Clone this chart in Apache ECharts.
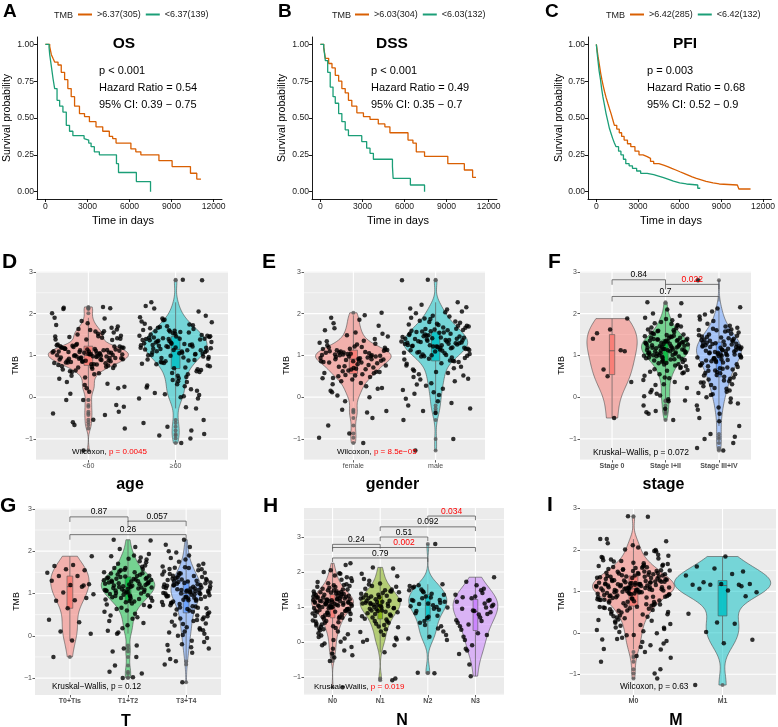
<!DOCTYPE html>
<html>
<head>
<meta charset="utf-8">
<script src="https://cdn.jsdelivr.net/npm/echarts@6/dist/echarts.min.js"></script>
<style>
  html, body { margin: 0; padding: 0; background: #fff; }
  #chart { width: 778px; height: 727px; }
</style>
</head>
<body>
<div id="chart"></div>
<script>
// ---------- Kaplan-Meier curves: [days, survival] at each step ----------
const osHigh = [[0,1],[307,0.984],[425,0.93],[540,0.905],[660,0.88],[900,0.86],[1130,0.81],[1370,0.76],[1600,0.70],[1840,0.645],[2080,0.58],[2430,0.53],[2790,0.51],[3140,0.475],[3610,0.44],[4090,0.41],[4560,0.375],[4800,0.36],[5040,0.33],[6100,0.29],[6450,0.27],[6810,0.25],[8100,0.21],[9040,0.17],[10350,0.125],[10800,0.085],[11100,0.085]];
const osLow = [[0,1],[260,0.98],[307,0.93],[425,0.85],[540,0.77],[660,0.70],[830,0.62],[1015,0.58],[1250,0.54],[1490,0.45],[1720,0.41],[1960,0.38],[2760,0.36],[2860,0.35],[3090,0.33],[3260,0.305],[3490,0.27],[3850,0.25],[5070,0.19],[5215,0.13],[6490,0.068],[7500,0.0]];
const dssHigh = [[0,1],[236,0.98],[354,0.905],[590,0.87],[826,0.84],[1060,0.79],[1300,0.75],[1530,0.70],[1770,0.67],[2000,0.62],[2240,0.58],[2600,0.535],[3070,0.51],[3540,0.49],[4130,0.46],[4600,0.44],[4960,0.40],[6250,0.35],[6600,0.33],[6840,0.27],[7430,0.24],[9090,0.19],[10270,0.147],[10860,0.097],[11100,0.097]];
const dssLow = [[0,1],[236,0.98],[354,0.89],[520,0.81],[700,0.71],[900,0.645],[1060,0.60],[1300,0.53],[1530,0.475],[1770,0.42],[2000,0.38],[2950,0.34],[3300,0.295],[3540,0.26],[3780,0.22],[5140,0.17],[5190,0.09],[6420,0.045],[7430,0.0]];
const pfiHigh = [[0,1],[60,0.96],[118,0.92],[180,0.885],[236,0.85],[320,0.80],[400,0.76],[490,0.72],[590,0.68],[700,0.64],[826,0.60],[940,0.565],[1060,0.53],[1180,0.49],[1300,0.45],[1470,0.425],[1650,0.40],[1820,0.375],[2000,0.35],[2240,0.325],[2480,0.305],[2780,0.275],[3070,0.25],[3360,0.238],[3660,0.226],[3900,0.205],[4130,0.19],[4500,0.18],[4840,0.17],[5130,0.158],[5430,0.147],[5720,0.135],[6020,0.124],[6300,0.112],[6600,0.10],[6900,0.09],[7200,0.08],[7550,0.07],[7900,0.06],[8400,0.052],[8850,0.045],[10150,0.038],[10260,0.018],[11100,0.018]];
const pfiLow = [[0,1],[60,0.94],[118,0.89],[200,0.82],[300,0.76],[380,0.70],[470,0.645],[580,0.59],[700,0.53],[820,0.48],[940,0.43],[1060,0.395],[1180,0.36],[1300,0.33],[1420,0.305],[1600,0.275],[1770,0.25],[1950,0.22],[2120,0.19],[2360,0.175],[2600,0.158],[2900,0.14],[3190,0.124],[3660,0.115],[4130,0.106],[4480,0.095],[4840,0.084],[5200,0.072],[5550,0.06],[6000,0.052],[6490,0.045],[7300,0.023],[7480,0.023]];

const kmTitles = ['OS', 'DSS', 'PFI'];
const kmHighNames = ['>6.37(305)', '>6.03(304)', '>6.42(285)'];
const kmLowNames = ['<6.37(139)', '<6.03(132)', '<6.42(132)'];
const kmPText = ['p < 0.001', 'p < 0.001', 'p = 0.003'];
const kmHR = ['Hazard Ratio = 0.54', 'Hazard Ratio = 0.49', 'Hazard Ratio = 0.68'];
const kmCI = ['95% CI: 0.39 \u2212 0.75', '95% CI: 0.35 \u2212 0.7', '95% CI: 0.52 \u2212 0.9'];
const kmXTicks = [0, 3000, 6000, 9000, 12000];
const kmYTicks = [0, 0.25, 0.5, 0.75, 1];

// ---------- TMB values per group ----------
const ageLt60 = [1.05,0.92,1.21,1.38,0.77,1.12,0.64,1.47,0.98,1.16,2.13,0.85,0.82,1.03,0.51,1.62,1.09,0.95,0.73,0.71,1.18,1.57,0.88,1.01,0.29,1.24,1.42,0.99,1.11,0.79,2.11,0.88,0.93,1.07,1.52,0.62,0.94,1.14,0.44,1.88,0.97,1.19,0.79,0.83,1.06,-0.07,1.45,0.9,1.23,1.69,1.02,0.74,1.13,0.92,0.25,0.96,1.08,1.55,0.87,1.26,2.16,1.0,1.4,0.68,1.17,0.94,1.82,1.1,0.57,0.84,-0.19,1.04,1.22,0.81,1.5,0.91,1.15,0.36,1.37,1.06,1.73,0.89,1.2,-0.35,1.03,0.66,0.76,1.12,2.01,0.98,1.44,0.76,0.21,1.09,1.58,1.25,0.93,-0.54,1.16,0.86,0.86,1.9,1.05,0.6,1.41,0.13,1.19,0.97,1.63,-0.23,1.11,0.83,0.7,0.47,1.0,1.53,-0.67,1.21,0.72,2.14,1.07,0.95,-0.39,1.46,0.08,1.14,1.77,0.9,-0.43,1.27,1.02,0.55,-0.07,1.66,-1.28,1.38,0.99,-0.6,0.21,1.61,1.18,0.32,1.08,-0.75,0.78];
const ageGe60 = [1.32,0.95,1.58,1.12,0.41,1.76,1.25,0.83,1.47,1.05,2.27,0.62,1.39,1.18,-0.24,1.66,0.97,1.52,0.28,1.21,1.85,0.74,1.09,1.43,0.05,1.3,1.61,0.88,1.15,1.95,0.51,1.36,1.02,1.7,-0.03,1.27,0.79,1.49,1.13,2.18,0.19,1.41,0.92,1.56,1.07,0.67,1.34,1.81,0.36,1.23,-0.88,1.45,1.0,1.63,0.86,1.17,2.81,0.1,1.38,0.58,1.29,1.74,0.94,1.11,0.45,1.5,-0.27,1.2,1.91,0.71,1.33,1.04,1.59,0.23,1.26,0.82,1.44,-1.1,1.16,2.05,0.99,1.37,0.55,1.68,1.08,0.31,1.42,0.89,1.22,1.79,0.02,1.31,0.65,1.53,1.14,-0.99,1.88,0.76,1.4,1.01,0.15,1.6,1.24,0.48,1.35,-0.55,1.19,0.9,1.72,0.07,1.46,1.06,2.12,0.6,1.28,-0.62,1.55,0.84,1.18,0.38,1.65,1.03,-0.71,1.47,0.26,1.1,2.8,0.69,1.39,-0.8,1.84,0.96,0.0,1.25,-0.03,1.57,0.8,1.12,-0.92,1.4];
const female = [1.05,0.62,1.14,0.88,0.31,1.28,0.97,0.45,1.08,0.73,2.02,0.52,1.19,0.91,-0.1,1.45,0.83,1.02,0.2,0.66,1.6,0.95,0.38,1.11,0.79,1.9,0.57,1.03,0.86,1.35,0.04,0.99,0.7,1.24,0.48,1.07,-0.33,0.93,1.77,0.61,1.16,0.84,0.26,1.0,1.52,0.68,1.1,-0.5,0.89,1.3,0.55,0.96,1.71,0.42,1.06,0.77,-0.3,1.18,0.92,0.12,1.39,0.64,1.01,1.96,0.5,0.87,1.21,-0.68,0.98,0.74,1.13,0.34,1.65,0.81,1.04,0.58,-0.37,1.09,0.9,1.26,0.15,0.71,1.48,0.94,-1.1,1.12,0.6,0.86,1.34,0.0,1.02,0.76,1.85,0.46,0.97,-0.87,1.15,0.67,1.07,0.22,1.55,0.83,1.0,0.53,-0.97,1.2,0.91];
const male = [1.25,1.52,0.98,1.71,1.18,0.63,1.4,1.87,1.06,1.33,0.42,1.61,1.21,2.12,0.87,1.47,1.13,0.2,1.56,1.29,1.95,0.76,1.37,1.02,1.66,0.05,1.23,1.81,0.92,1.44,2.03,0.55,1.31,1.09,1.74,-0.14,1.5,1.16,0.81,1.39,2.27,0.33,1.27,1.6,0.97,1.42,1.2,1.9,0.69,1.35,-0.27,1.55,1.07,1.78,0.12,1.3,0.88,1.46,2.15,1.14,0.48,1.64,1.24,-0.55,1.01,1.83,1.36,0.6,1.52,1.19,0.27,1.69,1.11,2.01,0.84,1.41,-0.04,1.28,1.57,0.94,1.73,1.22,0.38,1.48,2.8,1.05,1.34,0.73,1.62,-0.2,1.17,1.88,0.99,1.43,0.08,1.26,1.58,0.9,2.1,1.32,0.52,1.76,1.12,-1.0,1.38,1.03,1.67,0.3,1.45,1.21,0.8,1.93,-0.33,1.15,1.54,0.66,1.29,1.8,0.17,1.37,1.08,2.05,-0.38,1.49,0.95,1.63,0.44,1.24,-1.28,1.71,1.0,1.4,0.58,2.21,1.18,-0.1,1.59,0.86,2.81,1.33];
const stage0 = [1.88,1.62,1.4,1.12,0.66,0.36,-0.5,1.53,1.1,0.5];
const stage12 = [1.18,1.42,0.87,1.29,1.6,0.98,1.12,0.63,1.35,1.73,1.05,0.41,1.22,1.51,0.92,1.15,2.27,0.76,1.38,1.08,-0.1,1.67,1.25,0.85,1.46,1.01,0.29,1.32,1.87,0.95,1.19,0.55,1.4,1.1,2.0,0.72,1.27,-0.36,1.56,1.04,0.89,1.33,0.12,1.21,1.8,0.99,1.44,0.67,1.14,-0.28,1.62,1.07,0.81,1.36,0.45,1.24,1.95,0.94,1.3,-0.55,1.17,0.59,1.49,1.02,1.71,0.04,1.26,0.9,1.39,2.25,0.78,1.13,0.36,1.58,1.06,-0.05,1.43,0.97,1.2,0.51,1.84,1.09,0.84,1.34,-0.4,1.65,1.0,0.22,1.28,1.53,0.7,1.16,0.93,1.47,0.08,1.23,2.1,0.61,1.37,1.11,-0.2,1.75,0.88,1.31,0.47,1.19,1.04,1.59,0.74,1.41,0.17,1.27,0.96,1.9,1.14,-0.33,1.5,0.82,1.07,1.35,1.22,0.65,1.45,1.0,1.69,0.31,1.26,0.91,1.38,-0.08,1.12,1.55,0.79,1.3,0.02,1.18,1.77,0.57,1.33,1.05];
const stage34 = [1.12,0.58,1.34,0.87,1.61,0.2,1.05,1.47,0.69,1.23,-0.12,1.82,0.95,0.4,1.3,1.02,2.12,0.77,1.16,0.05,1.55,0.9,1.38,0.31,1.08,-0.3,1.69,0.63,1.2,0.98,1.45,0.16,1.27,2.15,0.83,1.11,0.47,1.6,-0.5,1.0,1.35,0.72,1.18,0.26,1.52,0.93,-0.2,1.25,1.76,0.55,1.06,0.35,1.41,0.86,-0.69,1.14,1.98,0.66,1.29,0.1,1.03,1.5,0.79,-0.4,1.21,0.44,1.64,0.97,1.33,0.0,1.09,0.6,1.86,0.89,-0.88,1.17,1.43,0.52,1.26,0.22,0.95,1.57,0.74,1.12,-0.25,1.37,0.38,2.05,1.01,0.68,1.24,-1.1,0.84,1.48,0.13,1.07,1.66,0.57,1.31,-0.03,0.92,1.19,0.49,1.44,-0.95,1.04,0.76,1.59,0.29,1.22,0.99,-1.0,1.36,0.64,2.8,1.1,0.42,1.28,-0.58,0.81,1.71,0.07,1.15,-1.28,0.88,1.4,0.53,1.93,0.71,1.2,-0.15,1.02,0.35,1.62,0.93,-1.22];
const t0tis = [1.88,1.67,1.65,1.55,1.57,1.49,1.41,1.41,1.22,1.2,1.3,1.16,1.02,0.98,0.84,0.83,0.89,0.65,0.38,0.32,0.1,0.05,-0.11,-0.5,1.19];
const t1t2 = [1.15,1.42,0.88,1.27,1.63,0.97,1.08,0.52,1.35,1.8,1.03,0.35,1.22,1.55,0.9,1.18,2.27,0.73,1.4,1.06,-0.23,1.7,1.25,0.82,1.47,1.0,0.18,1.31,1.9,0.94,1.2,0.6,1.38,1.12,2.05,0.7,1.28,-0.37,1.58,1.05,0.86,1.33,0.05,1.23,1.82,0.99,1.44,0.66,1.14,-0.98,1.6,1.09,0.79,1.36,0.44,1.24,1.93,0.93,1.3,-0.89,1.17,0.57,1.5,1.01,1.74,0.25,1.26,0.87,1.39,2.25,0.76,1.13,0.3,1.56,1.07,-0.5,1.45,0.96,1.21,0.48,1.85,1.1,0.83,1.34,-0.7,1.66,1.02,0.12,1.29,1.52,0.69,1.16,0.91,1.48,-0.3,1.23,2.1,0.63,1.37,1.11,-0.85,1.76,0.89,1.32,0.4,1.19,1.04,1.6,0.74,1.41,0.08,1.27,0.95,1.88,1.14,-1.0,1.5,0.81,1.07,1.35];
const t3t4 = [1.05,0.62,1.31,0.88,1.58,0.18,1.0,1.45,0.7,1.2,-0.15,1.8,0.93,0.37,1.27,1.02,2.1,0.78,1.14,0.02,1.52,0.9,1.36,0.29,1.07,-0.35,1.66,0.67,1.17,0.97,1.42,0.13,1.25,2.15,0.83,1.1,0.46,1.6,-0.55,0.99,1.33,0.73,1.16,0.24,1.49,0.92,-0.22,1.22,1.75,0.55,1.04,0.33,1.39,0.85,-0.68,1.12,1.97,0.65,1.28,0.08,1.01,1.47,0.8,-0.4,1.19,0.43,1.62,0.95,1.3,0.0,1.06,0.6,1.84,0.87,-1.1,1.15,1.41,0.5,1.24,0.2,0.94,1.55,0.75,1.11,-0.27,1.35,0.39,2.27,1.0,0.69,1.23,-0.05,0.84,1.46,0.15,1.08,1.64,0.57,1.29,0.05,0.91,1.18,0.48,1.43,-0.3,1.03,0.77,1.57,0.28,1.21,0.98,-0.6,1.34,0.63,2.0,1.09,0.41,1.26,-0.12,0.81,1.7,0.1,1.13,0.86,1.38,0.52,1.9,0.72,1.2,-0.2,1.01,0.35,1.61,0.92,1.05,1.32,0.66,1.48,0.96,1.12];
const n0 = [1.12,0.72,1.35,0.95,1.62,0.25,1.06,1.48,0.81,1.23,-0.1,1.85,1.0,0.47,1.3,1.09,2.25,0.86,1.18,0.1,1.55,0.97,1.4,0.36,1.14,-0.2,1.71,0.69,1.21,1.03,1.45,0.18,1.29,2.05,0.89,1.16,0.55,1.6,-0.45,1.02,1.37,0.77,1.2,0.3,1.52,0.94,-0.33,1.26,1.78,0.6,1.08,0.4,1.42,0.88,-0.55,1.15,1.96,0.66,1.32,0.05,1.04,1.5,0.83,-0.38,1.22,0.5,1.65,0.98,1.34,0.0,1.1,0.63,1.9,0.91,-0.25,1.17,1.44,0.56,1.27,0.22,0.99,1.58,0.79,1.13,-0.15,1.39,0.43,2.2,1.05,0.74,1.25,-0.05,0.87,1.47,0.14,1.11,1.68,0.61,1.33,1.0,0.93,1.19,0.52,1.43,1.07,0.8,1.57,0.33,1.24,1.01,1.38,0.68,2.0,1.12,0.45,1.28,-1.3,0.84,1.74,1.06,1.16,0.9,1.41,0.58,1.95,0.76,1.22,1.09,0.38,1.63,0.96,1.3,1.04,0.71,1.5,1.14,0.85,1.36,1.2,1.82];
const n1 = [1.05,0.73,1.32,0.9,1.58,0.3,1.12,1.45,0.8,1.2,-0.3,1.75,0.97,0.44,1.27,1.02,2.13,0.85,1.15,0.05,1.5,0.93,1.38,0.36,1.08,-1.05,1.67,0.66,1.18,1.0,1.42,0.2,1.25,2.1,0.88,1.1,0.58,1.6,0.07,0.98,1.34,0.75,1.22,0.28,1.48,0.95,-0.1,1.28,1.8,0.55,1.06,0.42,1.4,0.82,-1.1,1.14,1.95,0.64,1.3,0.12,1.03,1.52,0.78,0.6,1.2,0.48,1.64,0.96,1.35,0.0,1.09,0.7,1.88,0.9,1.17,1.44,0.52,1.24,0.86,1.11];
const n2 = [1.2,0.6,1.48,0.95,1.62,0.3,1.1,1.55,0.75,1.25,0.05,1.38,0.88,0.45,1.3,1.02,2.8,0.55,1.15,0.15,1.58,0.92,1.42,0.1,1.05,-0.88,1.65,0.68,1.2,1.0,1.5,0.2,1.27,0.82,1.12,0.48,1.6,-0.9,1.08,1.35,0.72,1.18,0.38,1.45,0.98];
const n3 = [0.95,0.2,1.25,0.62,1.48,-0.2,0.85,1.3,0.45,1.1,-0.65,1.85,0.78,0.15,1.18,0.9,0.55,1.4,-0.25,1.02,1.62,0.35,0.98,-0.98,1.35,0.7,0.05,1.2,0.88,-0.35,1.52,0.5,1.06,0.25,1.28,0.8,-0.1,1.15,0.6,1.72];
const m0 = [1.1,0.7,1.36,0.94,1.63,0.24,1.05,1.49,0.8,1.22,-0.12,1.86,0.99,0.46,1.31,1.08,2.26,0.85,1.17,0.09,1.56,0.96,1.41,0.35,1.13,-0.22,1.72,0.68,1.2,1.02,1.46,0.17,1.28,2.06,0.88,1.15,0.54,1.61,-0.46,1.01,1.38,0.76,1.19,0.29,1.53,0.93,-0.34,1.25,1.79,0.59,1.07,0.39,1.43,0.87,-0.56,1.14,1.97,0.65,1.33,0.04,1.03,1.51,0.82,-0.39,1.21,0.49,1.66,0.97,1.35,-0.01,1.09,0.62,1.91,0.9,-0.26,1.16,1.45,0.55,1.26,0.21,0.98,1.59,0.78,1.12,-0.16,1.4,0.42,2.21,1.04,0.73,1.24,-0.06,0.86,1.48,0.13,1.1,1.69,0.6,1.32,0.99,0.92,1.18,0.51,1.44,1.06,0.79,1.58,0.32,1.23,1.0,1.37,0.67,2.01,1.11,0.44,1.27,-0.88,0.83,1.75,1.05,1.15,0.89,1.42,0.57,1.96,0.75,1.21,1.08,0.37,1.64,0.95,1.3,1.03,0.71,1.5,1.13,0.84,1.36,1.19,1.83,2.8,0.02,1.29,0.63,1.54,-0.98,1.07,0.81,1.68,0.27,1.23,2.11,0.91,-0.3,1.39,0.5,1.16,1.77,-1.1,0.97,1.34,0.69,1.47,0.12,1.2,2.26,0.87,1.06,-0.6,1.57,0.4,1.26,0.93,1.81,0.58,1.12,-0.2,1.44,0.77,2.0,1.01,0.31,1.35,0.86,1.62,-0.05,1.17,0.65,1.52,1.09,0.19,1.28,1.88,0.94,-0.7,1.14,0.53,1.41,1.04,2.16,0.74,1.22,0.07,1.6,0.98,-0.4,1.32,0.61,1.1,1.73,0.45,1.18,0.9,1.49,2.81,0.8,1.25,-0.15,1.02,1.38];
const m1 = [1.84,1.6,1.48,1.55,1.38,1.42,1.22,1.18,1.18,1.16,1.16,1.16,0.98,1.02,1.06,0.88,0.25,0.46,0.22,0.02,-0.17,-0.25,-1.26,1.12];

// ---------- pairwise comparisons: [group a, group b, bracket height] ----------
const stageBrackets = [[1, 2, 2.81], [2, 3, 2.70], [1, 3, 2.41]];
const stageBracketP = ['0.84', '0.022', '0.7'];
const tBrackets = [[1, 2, 2.81], [2, 3, 2.71], [1, 3, 2.39]];
const tBracketP = ['0.87', '0.057', '0.26'];
const nBrackets = [[1, 3, 2.40], [1, 4, 2.70], [1, 2, 2.79], [2, 3, 3.0], [2, 4, 3.29], [3, 4, 3.6]];
const nBracketP = ['0.79', '0.002', '0.24', '0.51', '0.092', '0.034'];

const FONT = '"Liberation Sans", Arial, Helvetica, sans-serif';
const RED = '#FF0000';
const hue2 = ['#F8766D', '#00BFC4'];
const hue3 = ['#F8766D', '#00BA38', '#619CFF'];
const hue4 = ['#F8766D', '#7CAE00', '#00BFC4', '#C77CFF'];
const kmColors = ['#D95F02', '#1B9E77'];

const violinPanels = [
  { cats: ['<60', '\u226560'], groups: [ageLt60, ageGe60], colors: hue2, widths: [0.46, 0.36],
    grid: { left: 36, top: 271, width: 192, height: 189 }, ymin: -1.505, ymax: 3.02, bold: false,
    title: 'age', letter: 'D', test: ['Wilcoxon, ', 'p = 0.0045'], testRed: true, testPos: [72, 452], testSize: 8,
    nameX: 16, titleY: 484.5 },
  { cats: ['female', 'male'], groups: [female, male], colors: hue2, widths: [0.46, 0.39],
    grid: { left: 304, top: 271, width: 181, height: 189 }, ymin: -1.505, ymax: 3.02, bold: false,
    title: 'gender', letter: 'E', test: ['Wilcoxon, ', 'p = 8.5e\u221205'], testRed: true, testPos: [337, 452], testSize: 8,
    nameX: 287, titleY: 484.5 },
  { cats: ['Stage 0', 'Stage I+II', 'Stage III+IV'], groups: [stage0, stage12, stage34], colors: hue3, widths: [0.47, 0.45, 0.42],
    grid: { left: 580, top: 271, width: 171, height: 189 }, ymin: -1.505, ymax: 3.02, bold: true,
    brackets: stageBrackets, bracketP: stageBracketP,
    title: 'stage', letter: 'F', test: ['Kruskal\u2212Wallis, p = 0.072', ''], testRed: false, testPos: [593, 453], testSize: 8.5,
    nameX: 562, titleY: 484.5 },
  { cats: ['T0+Tis', 'T1+T2', 'T3+T4'], groups: [t0tis, t1t2, t3t4], colors: hue3, widths: [0.33, 0.46, 0.26],
    grid: { left: 35, top: 508, width: 186, height: 187 }, ymin: -1.4, ymax: 3.02, bold: true,
    brackets: tBrackets, bracketP: tBracketP,
    title: 'T', letter: 'G', test: ['Kruskal\u2212Wallis, p = 0.12', ''], testRed: false, testPos: [52, 687], testSize: 8.3,
    nameX: 17, titleY: 722 },
  { cats: ['N0', 'N1', 'N2', 'N3'], groups: [n0, n1, n2, n3], colors: hue4, widths: [0.44, 0.42, 0.40, 0.47],
    grid: { left: 304, top: 508, width: 200, height: 187 }, ymin: -1.52, ymax: 3.83, bold: true,
    brackets: nBrackets, bracketP: nBracketP,
    title: 'N', letter: 'H', test: ['Kruskal\u2212Wallis, ', 'p = 0.019'], testRed: true, testPos: [314, 687], testSize: 8,
    nameX: 286, titleY: 721 },
  { cats: ['M0', 'M1'], groups: [m0, m1], colors: hue2, widths: [0.46, 0.54],
    grid: { left: 580, top: 508, width: 196, height: 187 }, ymin: -1.5, ymax: 3.01, bold: true,
    title: 'M', letter: 'I', test: ['Wilcoxon, p = 0.63', ''], testRed: false, testPos: [620, 687], testSize: 8.3,
    nameX: 562, titleY: 721 }
];

const kmGrids = [
  { left: 37, top: 37, width: 185, height: 162 },
  { left: 312, top: 37, width: 185, height: 162 },
  { left: 588, top: 37, width: 185, height: 162 }
];

function alpha(hex, a) {
  const n = parseInt(hex.slice(1), 16);
  return 'rgba(' + (n >> 16) + ',' + ((n >> 8) & 255) + ',' + (n & 255) + ',' + a + ')';
}

function quantile(s, p) {
  const h = (s.length - 1) * p, lo = Math.floor(h);
  const hi = Math.min(lo + 1, s.length - 1);
  return s[lo] + (h - lo) * (s[hi] - s[lo]);
}

// box stats + trimmed gaussian density (bw.nrd0), like geom_violin
function groupStats(vals) {
  const s = vals.slice().sort((a, b) => a - b);
  const n = s.length;
  const q1 = quantile(s, 0.25), med = quantile(s, 0.5), q3 = quantile(s, 0.75);
  const iqr = q3 - q1;
  const lo = s.find(v => v >= q1 - 1.5 * iqr);
  const hi = s.slice().reverse().find(v => v <= q3 + 1.5 * iqr);
  const out = s.filter(v => v < lo || v > hi);
  const mean = s.reduce((a, b) => a + b, 0) / n;
  const sd = Math.sqrt(s.reduce((a, b) => a + (b - mean) * (b - mean), 0) / (n - 1));
  const bw = 0.9 * Math.min(sd, iqr / 1.34) * Math.pow(n, -0.2);
  const steps = 90, prof = [];
  for (let k = 0; k <= steps; k++) {
    const y = s[0] + (s[n - 1] - s[0]) * k / steps;
    let d = 0;
    for (const v of s) { const z = (y - v) / bw; d += Math.exp(-0.5 * z * z); }
    prof.push([y, d]);
  }
  const maxD = Math.max(...prof.map(p => p[1]));
  prof.forEach(p => { p[1] /= maxD; });
  return { q1, med, q3, lo, hi, out, prof };
}

const measure = document.createElement('canvas').getContext('2d');
function textWidth(t, size, bold) {
  measure.font = (bold ? 'bold ' : '') + size + 'px ' + FONT;
  return measure.measureText(t).width;
}

function txt(x, y, text, size, o) {
  o = o || {};
  return {
    type: 'text', x: x, y: y, rotation: o.rot || 0, silent: true, z: 100,
    style: {
      text: text, fill: o.color || '#000', fontSize: size, fontFamily: FONT,
      fontWeight: o.bold ? 'bold' : 'normal', align: o.align || 'left', verticalAlign: 'middle'
    }
  };
}

const grids = [], xAxes = [], yAxes = [], series = [], legends = [], graphics = [];

// ---------- survival panels ----------
const kmData = [[osHigh, osLow], [dssHigh, dssLow], [pfiHigh, pfiLow]];
const kmLetters = [['A', 3], ['B', 278], ['C', 545]];
const kmTitleX = [124, 392, 685];
const kmTextX = [99, 371, 647];
const kmLegendX = [[54, 78], [332, 355], [606, 630]];
const kmYName = [7.5, 282, 559];
const kmXName = [123, 398, 671];

kmGrids.forEach((g, k) => {
  grids.push(Object.assign({ containLabel: false }, g));
  xAxes.push({
    type: 'value', gridIndex: k, min: -600, max: 12600,
    axisLine: { show: true, onZero: false, lineStyle: { color: '#000', width: 0.9 } },
    axisTick: { show: true, customValues: kmXTicks, length: 3, lineStyle: { color: '#000', width: 0.9 } },
    axisLabel: { customValues: kmXTicks, formatter: v => String(v), fontSize: 8.6, color: '#1a1a1a', margin: 3, fontFamily: FONT },
    splitLine: { show: false }
  });
  yAxes.push({
    type: 'value', gridIndex: k, min: -0.05, max: 1.05,
    axisLine: { show: true, onZero: false, lineStyle: { color: '#000', width: 0.9 } },
    axisTick: { show: true, customValues: kmYTicks, length: 3, lineStyle: { color: '#000', width: 0.9 } },
    axisLabel: { customValues: kmYTicks, formatter: v => v.toFixed(2), fontSize: 8.6, color: '#1a1a1a', margin: 3, fontFamily: FONT },
    splitLine: { show: false }
  });
  [kmHighNames[k], kmLowNames[k]].forEach((name, j) => {
    series.push({
      type: 'line', name: name, xAxisIndex: k, yAxisIndex: k, data: kmData[k][j],
      step: 'end', showSymbol: false, silent: true, color: kmColors[j],
      lineStyle: { color: kmColors[j], width: 1.3 }, z: 3
    });
  });
  legends.push({
    data: [kmHighNames[k], kmLowNames[k]], left: kmLegendX[k][1], top: 10, padding: 0,
    icon: 'rect', itemWidth: 14, itemHeight: 2, itemGap: 5, selectedMode: false,
    textStyle: { fontSize: 9, color: '#1a1a1a', fontFamily: FONT }
  });
  graphics.push(txt(kmLegendX[k][0], 15.7, 'TMB', 9, { color: '#1a1a1a' }));
  graphics.push(txt(kmLetters[k][1], 11.5, kmLetters[k][0], 19, { bold: true }));
  graphics.push(txt(kmTitleX[k], 44, kmTitles[k], 15.5, { bold: true, align: 'center' }));
  graphics.push(txt(kmTextX[k], 71, kmPText[k], 11));
  graphics.push(txt(kmTextX[k], 88, kmHR[k], 11));
  graphics.push(txt(kmTextX[k], 104.5, kmCI[k], 11));
  graphics.push(txt(kmYName[k], 118, 'Survival probability', 10.5, { rot: Math.PI / 2, align: 'center' }));
  graphics.push(txt(kmXName[k], 221, 'Time in days', 11, { align: 'center' }));
});

// ---------- violin panels ----------
const letterPos = { D: [2, 262.5, 21], E: [262, 262.5, 21], F: [548, 262.5, 21], G: [0, 506.5, 21], H: [263, 506.5, 21], I: [547, 505, 21] };

violinPanels.forEach((P, pi) => {
  const gi = grids.length;
  const nCat = P.cats.length;
  const catVals = P.cats.map((c, i) => i + 1);
  const yTicks = [-1, 0, 1, 2, 3];
  P.stats = P.groups.map(groupStats);
  grids.push(Object.assign({ show: true, backgroundColor: '#EBEBEB', borderWidth: 0 }, P.grid));
  xAxes.push({
    type: 'value', gridIndex: gi, min: 0.4, max: nCat + 0.6,
    axisLine: { show: false, onZero: false },
    axisTick: { show: true, customValues: catVals, length: 2.5, lineStyle: { color: '#333', width: 0.8 } },
    axisLabel: { customValues: catVals, formatter: v => P.cats[Math.round(v) - 1], fontSize: 7, color: '#4D4D4D',
      fontWeight: P.bold ? 'bold' : 'normal', margin: 3, fontFamily: FONT },
    splitLine: { show: false }
  });
  yAxes.push({
    type: 'value', gridIndex: gi, min: P.ymin, max: P.ymax,
    axisLine: { show: false, onZero: false },
    axisTick: { show: true, customValues: yTicks, length: 2.5, lineStyle: { color: '#333', width: 0.8 } },
    axisLabel: { customValues: yTicks, formatter: v => String(v).replace('-', '\u2212'), fontSize: 7, color: '#4D4D4D', margin: 3, fontFamily: FONT },
    splitLine: { show: false }
  });

  // panel grid lines
  series.push({
    type: 'custom', xAxisIndex: gi, yAxisIndex: gi, silent: true, z: 1, data: [[1, 0]],
    renderItem: (params, api) => {
      const cs = params.coordSys, kids = [];
      const k0 = Math.ceil(P.ymin * 2), k1 = Math.floor(P.ymax * 2);
      for (let k = k0; k <= k1; k++) {
        const y = api.coord([1, k / 2])[1];
        kids.push({ type: 'line', shape: { x1: cs.x, y1: y, x2: cs.x + cs.width, y2: y },
          style: { stroke: '#FFFFFF', lineWidth: k % 2 === 0 ? 1.1 : 0.55 } });
      }
      catVals.forEach(c => {
        const x = api.coord([c, 0])[0];
        kids.push({ type: 'line', shape: { x1: x, y1: cs.y, x2: x, y2: cs.y + cs.height },
          style: { stroke: '#FFFFFF', lineWidth: 1.1 } });
      });
      return { type: 'group', children: kids };
    }
  });

  // violins + boxplots
  series.push({
    type: 'custom', xAxisIndex: gi, yAxisIndex: gi, silent: true, z: 2,
    data: P.stats.map((s, i) => [i + 1, s.med]),
    renderItem: (params, api) => {
      const i = params.dataIndex, st = P.stats[i], cx = i + 1, hw = P.widths[i], col = P.colors[i];
      const right = st.prof.map(p => api.coord([cx + p[1] * hw, p[0]]));
      const left = st.prof.slice().reverse().map(p => api.coord([cx - p[1] * hw, p[0]]));
      const bw = 0.05;
      const a = api.coord([cx - bw, st.q3]), b = api.coord([cx + bw, st.q1]);
      const top = api.coord([cx, st.hi]), bot = api.coord([cx, st.lo]);
      const m1 = api.coord([cx - bw, st.med]), m2 = api.coord([cx + bw, st.med]);
      return { type: 'group', children: [
        { type: 'polygon', shape: { points: right.concat(left) }, style: { fill: alpha(col, 0.5), stroke: '#4D4D4D', lineWidth: 0.6 } },
        { type: 'line', shape: { x1: top[0], y1: top[1], x2: top[0], y2: a[1] }, style: { stroke: '#555', lineWidth: 0.7 } },
        { type: 'line', shape: { x1: bot[0], y1: b[1], x2: bot[0], y2: bot[1] }, style: { stroke: '#555', lineWidth: 0.7 } },
        { type: 'rect', shape: { x: a[0], y: a[1], width: b[0] - a[0], height: b[1] - a[1] }, style: { fill: alpha(col, 0.85), stroke: '#555', lineWidth: 0.6 } },
        { type: 'line', shape: { x1: m1[0], y1: m1[1], x2: m2[0], y2: m2[1] }, style: { stroke: '#555', lineWidth: 0.8 } }
      ] };
    }
  });

  // box outliers
  const outData = [];
  P.stats.forEach((s, i) => s.out.forEach(v => outData.push([i + 1, v])));
  series.push({
    type: 'scatter', xAxisIndex: gi, yAxisIndex: gi, silent: true, z: 3, data: outData,
    symbolSize: 4, itemStyle: { color: '#5A5A5A' }
  });

  // jittered points
  const pts = [];
  P.groups.forEach((vals, g) => {
    vals.forEach((v, k) => {
      const f = ((k + 1) * 0.6180339887 + g * 0.37 + pi * 0.11) % 1;
      pts.push([g + 1 + (f - 0.5) * 0.84, v]);
    });
  });
  series.push({
    type: 'scatter', xAxisIndex: gi, yAxisIndex: gi, silent: true, z: 4, data: pts,
    symbolSize: 4.5, itemStyle: { color: '#000' }
  });

  // comparison brackets
  if (P.brackets) {
    series.push({
      type: 'custom', xAxisIndex: gi, yAxisIndex: gi, silent: true, z: 5,
      data: P.brackets.map(b => [b[0], b[2]]),
      renderItem: (params, api) => {
        const b = P.brackets[params.dataIndex], lab = P.bracketP[params.dataIndex];
        const p1 = api.coord([b[0], b[2]]), p2 = api.coord([b[1], b[2]]);
        const t1 = api.coord([b[0], b[2] - 0.12]), t2 = api.coord([b[1], b[2] - 0.12]);
        return { type: 'group', children: [
          { type: 'polyline', shape: { points: [t1, p1, p2, t2] }, style: { stroke: '#555', lineWidth: 0.8, fill: null } },
          { type: 'text', x: (p1[0] + p2[0]) / 2, y: p1[1] - 4.8,
            style: { text: lab, fill: parseFloat(lab) < 0.05 ? RED : '#000', fontSize: 8.5, fontFamily: FONT, align: 'center', verticalAlign: 'middle' } }
        ] };
      }
    });
  }

  // labels
  const lp = letterPos[P.letter];
  graphics.push(txt(lp[0], lp[1], P.letter, lp[2], { bold: true }));
  graphics.push(txt(P.nameX, P.grid.top + P.grid.height / 2, 'TMB', 8.8, { rot: Math.PI / 2, align: 'center' }));
  graphics.push(txt(P.grid.left + P.grid.width / 2 - 2, P.titleY, P.title, 16, { bold: true, align: 'center' }));
  graphics.push(txt(P.testPos[0], P.testPos[1], P.test[0], P.testSize));
  if (P.test[1]) {
    const w = textWidth(P.test[0], P.testSize, false);
    graphics.push(txt(P.testPos[0] + w, P.testPos[1], P.test[1], P.testSize, { color: P.testRed ? RED : '#000' }));
  }
});

const chart = echarts.init(document.getElementById('chart'));
chart.setOption({
  animation: false,
  backgroundColor: '#fff',
  textStyle: { fontFamily: FONT },
  grid: grids,
  xAxis: xAxes,
  yAxis: yAxes,
  legend: legends,
  series: series,
  graphic: graphics
});
</script>
</body>
</html>
